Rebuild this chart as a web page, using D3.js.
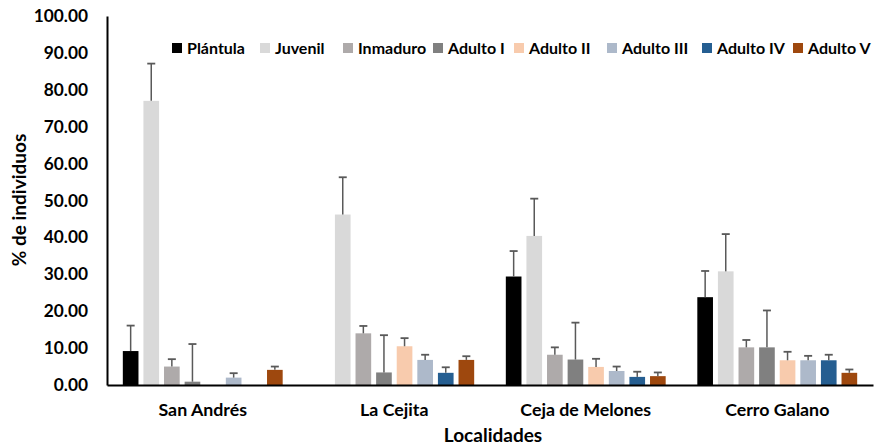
<!DOCTYPE html>
<html><head><meta charset="utf-8">
<script src="https://cdn.jsdelivr.net/npm/d3@7"></script>
<style>body{margin:0;background:#fff}svg{display:block}</style>
</head><body>
<script>
const categories = ["San Andrés", "La Cejita", "Ceja de Melones", "Cerro Galano"];
const series = ["Plántula", "Juvenil", "Inmaduro", "Adulto I", "Adulto II", "Adulto III", "Adulto IV", "Adulto V"];
const colors = ["#000000", "#d9d9d9", "#aeaaaa", "#808080", "#f8cbad", "#adb9ca", "#255e91", "#9e480e"];
// values per series, in category order
const plantula  = [9.2, 0, 29.4, 23.8];
const juvenil   = [77.0, 46.2, 40.4, 30.8];
const inmaduro  = [5.0, 14.0, 8.2, 10.2];
const adulto1   = [0.9, 3.4, 6.9, 10.2];
const adulto2   = [0, 10.5, 4.9, 6.7];
const adulto3   = [2.0, 6.8, 3.8, 6.7];
const adulto4   = [0, 3.3, 2.2, 6.7];
const adulto5   = [4.1, 6.8, 2.4, 3.3];
// error (upper) per series
const errPlantula = [6.9, 0, 6.9, 7.1];
const errJuvenil  = [10.1, 10.1, 10.1, 10.1];
const errInmaduro = [2.0, 2.0, 2.0, 2.0];
const errAdulto1  = [10.2, 10.1, 10.0, 10.0];
const errAdulto2  = [0, 2.2, 2.2, 2.3];
const errAdulto3  = [1.2, 1.4, 1.2, 1.2];
const errAdulto4  = [0, 1.5, 1.4, 1.5];
const errAdulto5  = [0.9, 1.0, 1.0, 0.9];
const yTicks = [0, 10, 20, 30, 40, 50, 60, 70, 80, 90, 100];

const values = [plantula, juvenil, inmaduro, adulto1, adulto2, adulto3, adulto4, adulto5];
const errors = [errPlantula, errJuvenil, errInmaduro, errAdulto1, errAdulto2, errAdulto3, errAdulto4, errAdulto5];

const W = 879, H = 445;
const svg = d3.select("body").append("svg").attr("width", W).attr("height", H);
const FONT = "Lato, 'Open Sans', sans-serif";

const mLeft = 107, mRight = 873, mTop = 16, mBottom = 385;
const x0 = d3.scaleBand().domain(categories).range([mLeft, mRight]).padding(0);
const x1 = d3.scaleBand().domain(series).range([0, x0.bandwidth()]).paddingInner(0.24).paddingOuter(0.768);
const y = d3.scaleLinear().domain([0, 100]).range([mBottom, mTop]);

const data = [];
categories.forEach((c, ci) => series.forEach((s, si) => {
  data.push({c, s, si, v: values[si][ci], e: errors[si][ci]});
}));

const g = svg.append("g");
g.selectAll("rect.bar").data(data.filter(d => d.v > 0)).join("rect")
  .attr("x", d => x0(d.c) + x1(d.s))
  .attr("width", x1.bandwidth())
  .attr("y", d => y(d.v))
  .attr("height", d => y(0) - y(d.v))
  .attr("fill", d => colors[d.si]);

const eb = g.selectAll("g.err").data(data.filter(d => d.e > 0)).join("g");
eb.append("line")
  .attr("x1", d => x0(d.c) + x1(d.s) + x1.bandwidth() / 2)
  .attr("x2", d => x0(d.c) + x1(d.s) + x1.bandwidth() / 2)
  .attr("y1", d => y(d.v)).attr("y2", d => y(d.v + d.e))
  .attr("stroke", "#595959").attr("stroke-width", 1.5);
eb.append("line")
  .attr("x1", d => x0(d.c) + x1(d.s) + x1.bandwidth() / 2 - 4)
  .attr("x2", d => x0(d.c) + x1(d.s) + x1.bandwidth() / 2 + 4)
  .attr("y1", d => y(d.v + d.e)).attr("y2", d => y(d.v + d.e))
  .attr("stroke", "#595959").attr("stroke-width", 1.8);

// axes
const yAxis = d3.axisLeft(y).tickValues(yTicks).tickSize(0).tickPadding(19).tickFormat(d3.format(".2f"));
const ya = svg.append("g").attr("transform", `translate(${mLeft},0)`).call(yAxis);
ya.select(".domain").attr("stroke", "#000").attr("stroke-width", 2);
ya.selectAll("text").attr("font-family", FONT).attr("font-weight", "bold").attr("font-size", 17.3).attr("fill", "#000");

const xAxis = d3.axisBottom(x0).tickSize(0).tickPadding(18);
const xa = svg.append("g").attr("transform", `translate(0,${mBottom})`).call(xAxis);
xa.select(".domain").attr("stroke", "#000").attr("stroke-width", 2);
xa.selectAll("text").attr("font-family", FONT).attr("font-weight", "bold").attr("font-size", 17.8).attr("fill", "#000");

svg.append("text").attr("x", 493).attr("y", 442)
  .attr("text-anchor", "middle").attr("font-family", FONT).attr("font-weight", "bold").attr("font-size", 19)
  .text("Localidades");
svg.append("text").attr("transform", "translate(26,200) rotate(-90)")
  .attr("text-anchor", "middle").attr("font-family", FONT).attr("font-weight", "bold").attr("font-size", 19)
  .text("% de individuos");

// legend
const legX = [172, 260, 343, 433, 514, 607, 702, 793];
const lg = svg.append("g").selectAll("g").data(series).join("g")
  .attr("transform", (d, i) => `translate(${legX[i]},48)`);
lg.append("rect").attr("x", 0).attr("y", -5).attr("width", 10).attr("height", 10)
  .attr("fill", (d, i) => colors[i]);
lg.append("text").attr("x", 15).attr("y", 0).attr("dy", "0.35em")
  .attr("font-family", FONT).attr("font-weight", "bold").attr("font-size", 16).text(d => d);
</script>
</body></html>
